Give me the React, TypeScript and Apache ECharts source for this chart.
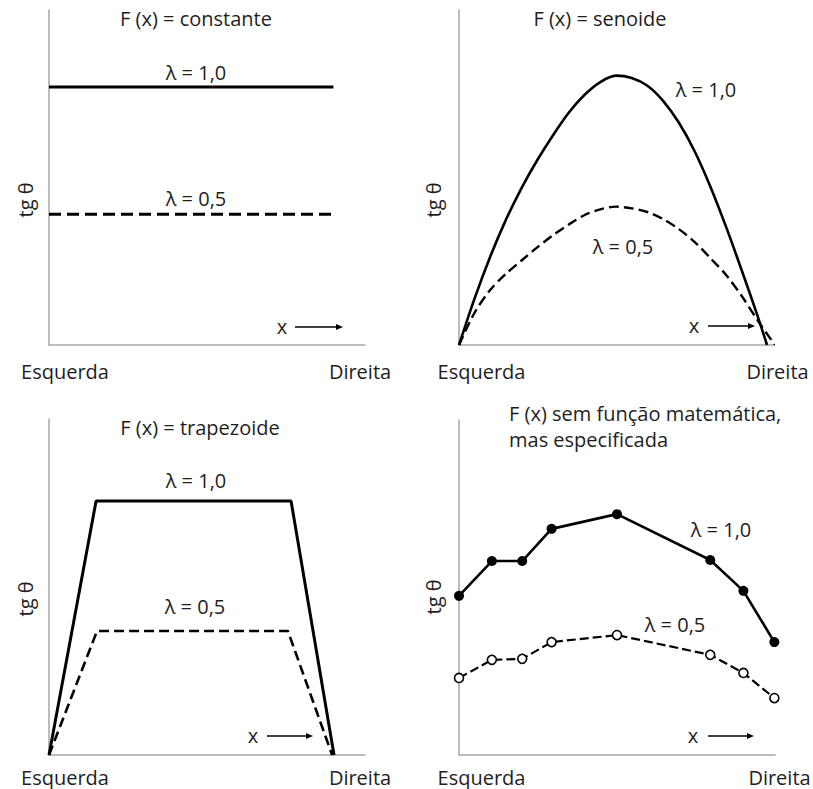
import React, { useEffect, useRef } from "react";
import * as echarts from "echarts";

// ---- tick labels / texts ----
const xEnds = ["Esquerda", "Direita"];
const yName = "tg θ";
const titles = ["F (x) = constante", "F (x) = senoide", "F (x) = trapezoide"];
const title4 = ["F (x) sem função matemática,", "mas especificada"];
const lambdaLabels = ["λ = 1,0", "λ = 0,5"];

// ---- panel 1: constant ----
const constX = [0, 9];
const constHigh = [7.7, 7.7];
const constLow = [3.9, 3.9];

// ---- panel 2: sinusoid ----
const sineHighX = [0, 0.5, 1, 1.5, 2, 2.5, 3, 3.5, 4, 4.5, 5, 5.5, 6, 6.5, 7, 7.5, 8, 8.5, 9, 9.5, 9.81];
const sineHighY = [0, 1.4, 2.65, 3.75, 4.7, 5.53, 6.27, 6.94, 7.47, 7.85, 8.04, 7.97, 7.74, 7.29, 6.64, 5.79, 4.74, 3.54, 2.24, 0.89, 0];
const sineLowX = [0, 0.5, 1, 1.5, 2, 2.5, 3, 3.5, 4, 4.5, 5, 5.5, 6, 6.5, 7, 7.5, 8, 8.5, 9, 9.5, 10.06];
const sineLowY = [0, 0.97, 1.65, 2.13, 2.53, 2.92, 3.28, 3.6, 3.88, 4.05, 4.13, 4.08, 3.97, 3.76, 3.46, 3.08, 2.6, 2.1, 1.47, 0.75, 0];

// ---- panel 3: trapezoid ----
const trapHighX = [0, 1.49, 7.66, 9.02];
const trapHighY = [0, 7.56, 7.56, 0];
const trapLowX = [0, 1.52, 7.56, 8.96];
const trapLowY = [0, 3.69, 3.69, 0];

// ---- panel 4: specified points ----
const specX = [0, 1.04, 2.0, 2.93, 5.0, 7.95, 9.0, 9.98];
const specHigh = [4.75, 5.79, 5.79, 6.75, 7.19, 5.82, 4.9, 3.37];
const specLow = [2.3, 2.84, 2.87, 3.37, 3.58, 2.99, 2.45, 1.7];

const zip = (xs: number[], ys: number[]) => xs.map((x, i) => [x, ys[i]]);

const FONT = "'Open Sans', 'Noto Sans', sans-serif";
const FS = 20;
const TXT = "#1e1e1e";
const AXIS = "#a6a6a6";

export default function App() {
  const ref = useRef<HTMLDivElement>(null);
  useEffect(() => {
    if (!ref.current) return;
    const chart = echarts.init(ref.current, undefined, { renderer: "svg" });

    const grids = [
      { left: 49, top: 10, width: 316, height: 335 },
      { left: 459, top: 10, width: 314, height: 335 },
      { left: 49, top: 419, width: 316, height: 336 },
      { left: 459, top: 420, width: 316, height: 335 },
    ];
    const lPad = [32, 45, 32, 45];
    const rPad: [number, number][] = [[0, 10], [9, 0], [0, 10], [9, 0]];
    const margins = [15, 15, 11, 11];

    const xAxes = grids.map((_, i) => ({
      type: "value",
      gridIndex: i,
      min: 0,
      max: 10,
      interval: 10,
      axisLine: { show: true, onZero: false, lineStyle: { color: AXIS, width: 1.5 } },
      axisTick: { show: false },
      splitLine: { show: false },
      axisLabel: {
        margin: margins[i],
        showMinLabel: true,
        showMaxLabel: true,
        hideOverlap: false,
        formatter: (v: number) => (v === 0 ? `{l|${xEnds[0]}}` : `{r|${xEnds[1]}}`),
        rich: {
          l: { fontFamily: FONT, fontSize: FS, color: TXT, lineHeight: 22, padding: [0, 0, 0, lPad[i]] },
          r: { fontFamily: FONT, fontSize: FS, color: TXT, lineHeight: 22, padding: [0, rPad[i][1], 0, rPad[i][0]] },
        },
      },
    }));
    const yAxes = grids.map((_, i) => ({
      type: "value",
      gridIndex: i,
      min: 0,
      max: 10,
      interval: 10,
      axisLine: { show: true, onZero: false, lineStyle: { color: AXIS, width: 1.5 } },
      axisTick: { show: false },
      splitLine: { show: false },
      axisLabel: { show: false },
    }));

    const solid = { color: "#000", width: 3, type: "solid" };
    const dashed = { color: "#000", width: 2.6, type: [10, 5] };

    const series: any[] = [
      { type: "line", xAxisIndex: 0, yAxisIndex: 0, data: zip(constX, constHigh), showSymbol: false, lineStyle: solid },
      { type: "line", xAxisIndex: 0, yAxisIndex: 0, data: zip(constX, constLow), showSymbol: false, lineStyle: { ...dashed, width: 3, type: [12, 6] } },
      { type: "line", xAxisIndex: 1, yAxisIndex: 1, data: zip(sineHighX, sineHighY), showSymbol: false, smooth: 0.3, clip: false, lineStyle: { ...solid, width: 2.6 } },
      { type: "line", xAxisIndex: 1, yAxisIndex: 1, data: zip(sineLowX, sineLowY), showSymbol: false, smooth: 0.3, clip: false, lineStyle: { ...dashed, width: 2.4 } },
      { type: "line", xAxisIndex: 2, yAxisIndex: 2, data: zip(trapHighX, trapHighY), showSymbol: false, lineStyle: solid },
      { type: "line", xAxisIndex: 2, yAxisIndex: 2, data: zip(trapLowX, trapLowY), showSymbol: false, lineStyle: dashed },
      {
        type: "line", xAxisIndex: 3, yAxisIndex: 3, data: zip(specX, specHigh), clip: false,
        symbol: "circle", symbolSize: 10, showSymbol: true,
        itemStyle: { color: "#000" }, lineStyle: { ...solid, width: 2.6 },
      },
      {
        type: "line", xAxisIndex: 3, yAxisIndex: 3, data: zip(specX, specLow), clip: false,
        symbol: "circle", symbolSize: 9, showSymbol: true,
        itemStyle: { color: "#fff", borderColor: "#000", borderWidth: 1.6 }, lineStyle: { ...dashed, width: 2.2, type: [9, 4] },
        z: 3,
      },
    ];

    const text = (t: string, x: number, y: number, align = "center", extra: any = {}) => ({
      type: "text",
      x,
      y,
      ...extra,
      style: { text: t, fontFamily: FONT, fontSize: FS, fill: TXT, align, verticalAlign: "middle" },
    });
    const arrow = (xText: number, x1: number, x2: number, y: number) => [
      text("x", xText, y - 1),
      { type: "line", shape: { x1, y1: y, x2: x2 - 6, y2: y }, style: { stroke: "#000", lineWidth: 1.6 } },
      { type: "polygon", shape: { points: [[x2 - 7, y - 3], [x2, y], [x2 - 7, y + 3]] }, style: { fill: "#000" } },
    ];

    const graphic: any[] = [
      text(titles[0], 196, 18),
      text(titles[1], 600, 18),
      text(titles[2], 200, 427),
      text(title4[0], 509, 413, "left"),
      text(title4[1], 509, 439, "left"),
      text(lambdaLabels[0], 196, 72),
      text(lambdaLabels[1], 196, 198),
      text(lambdaLabels[0], 706, 89),
      text(lambdaLabels[1], 623, 246),
      text(lambdaLabels[0], 196, 480),
      text(lambdaLabels[1], 195, 606),
      text(lambdaLabels[0], 721, 529),
      text(lambdaLabels[1], 675, 624),
      text(yName, 25, 200, "center", { rotation: Math.PI / 2 }),
      text(yName, 433, 200, "center", { rotation: Math.PI / 2 }),
      text(yName, 25, 599, "center", { rotation: Math.PI / 2 }),
      text(yName, 433, 597, "center", { rotation: Math.PI / 2 }),
      ...arrow(282, 295, 343, 327),
      ...arrow(694, 708, 755, 326),
      ...arrow(253, 267, 313, 736),
      ...arrow(693, 708, 754, 736),
    ];

    chart.setOption({
      animation: false,
      backgroundColor: "#fff",
      grid: grids.map((g) => ({ ...g, containLabel: false, outerBoundsMode: "none" })),
      xAxis: xAxes,
      yAxis: yAxes,
      series,
      graphic,
    });
    return () => chart.dispose();
  }, []);
  return <div ref={ref} style={{ width: 813, height: 789, position: "absolute", left: 0, top: 0 }} />;
}
